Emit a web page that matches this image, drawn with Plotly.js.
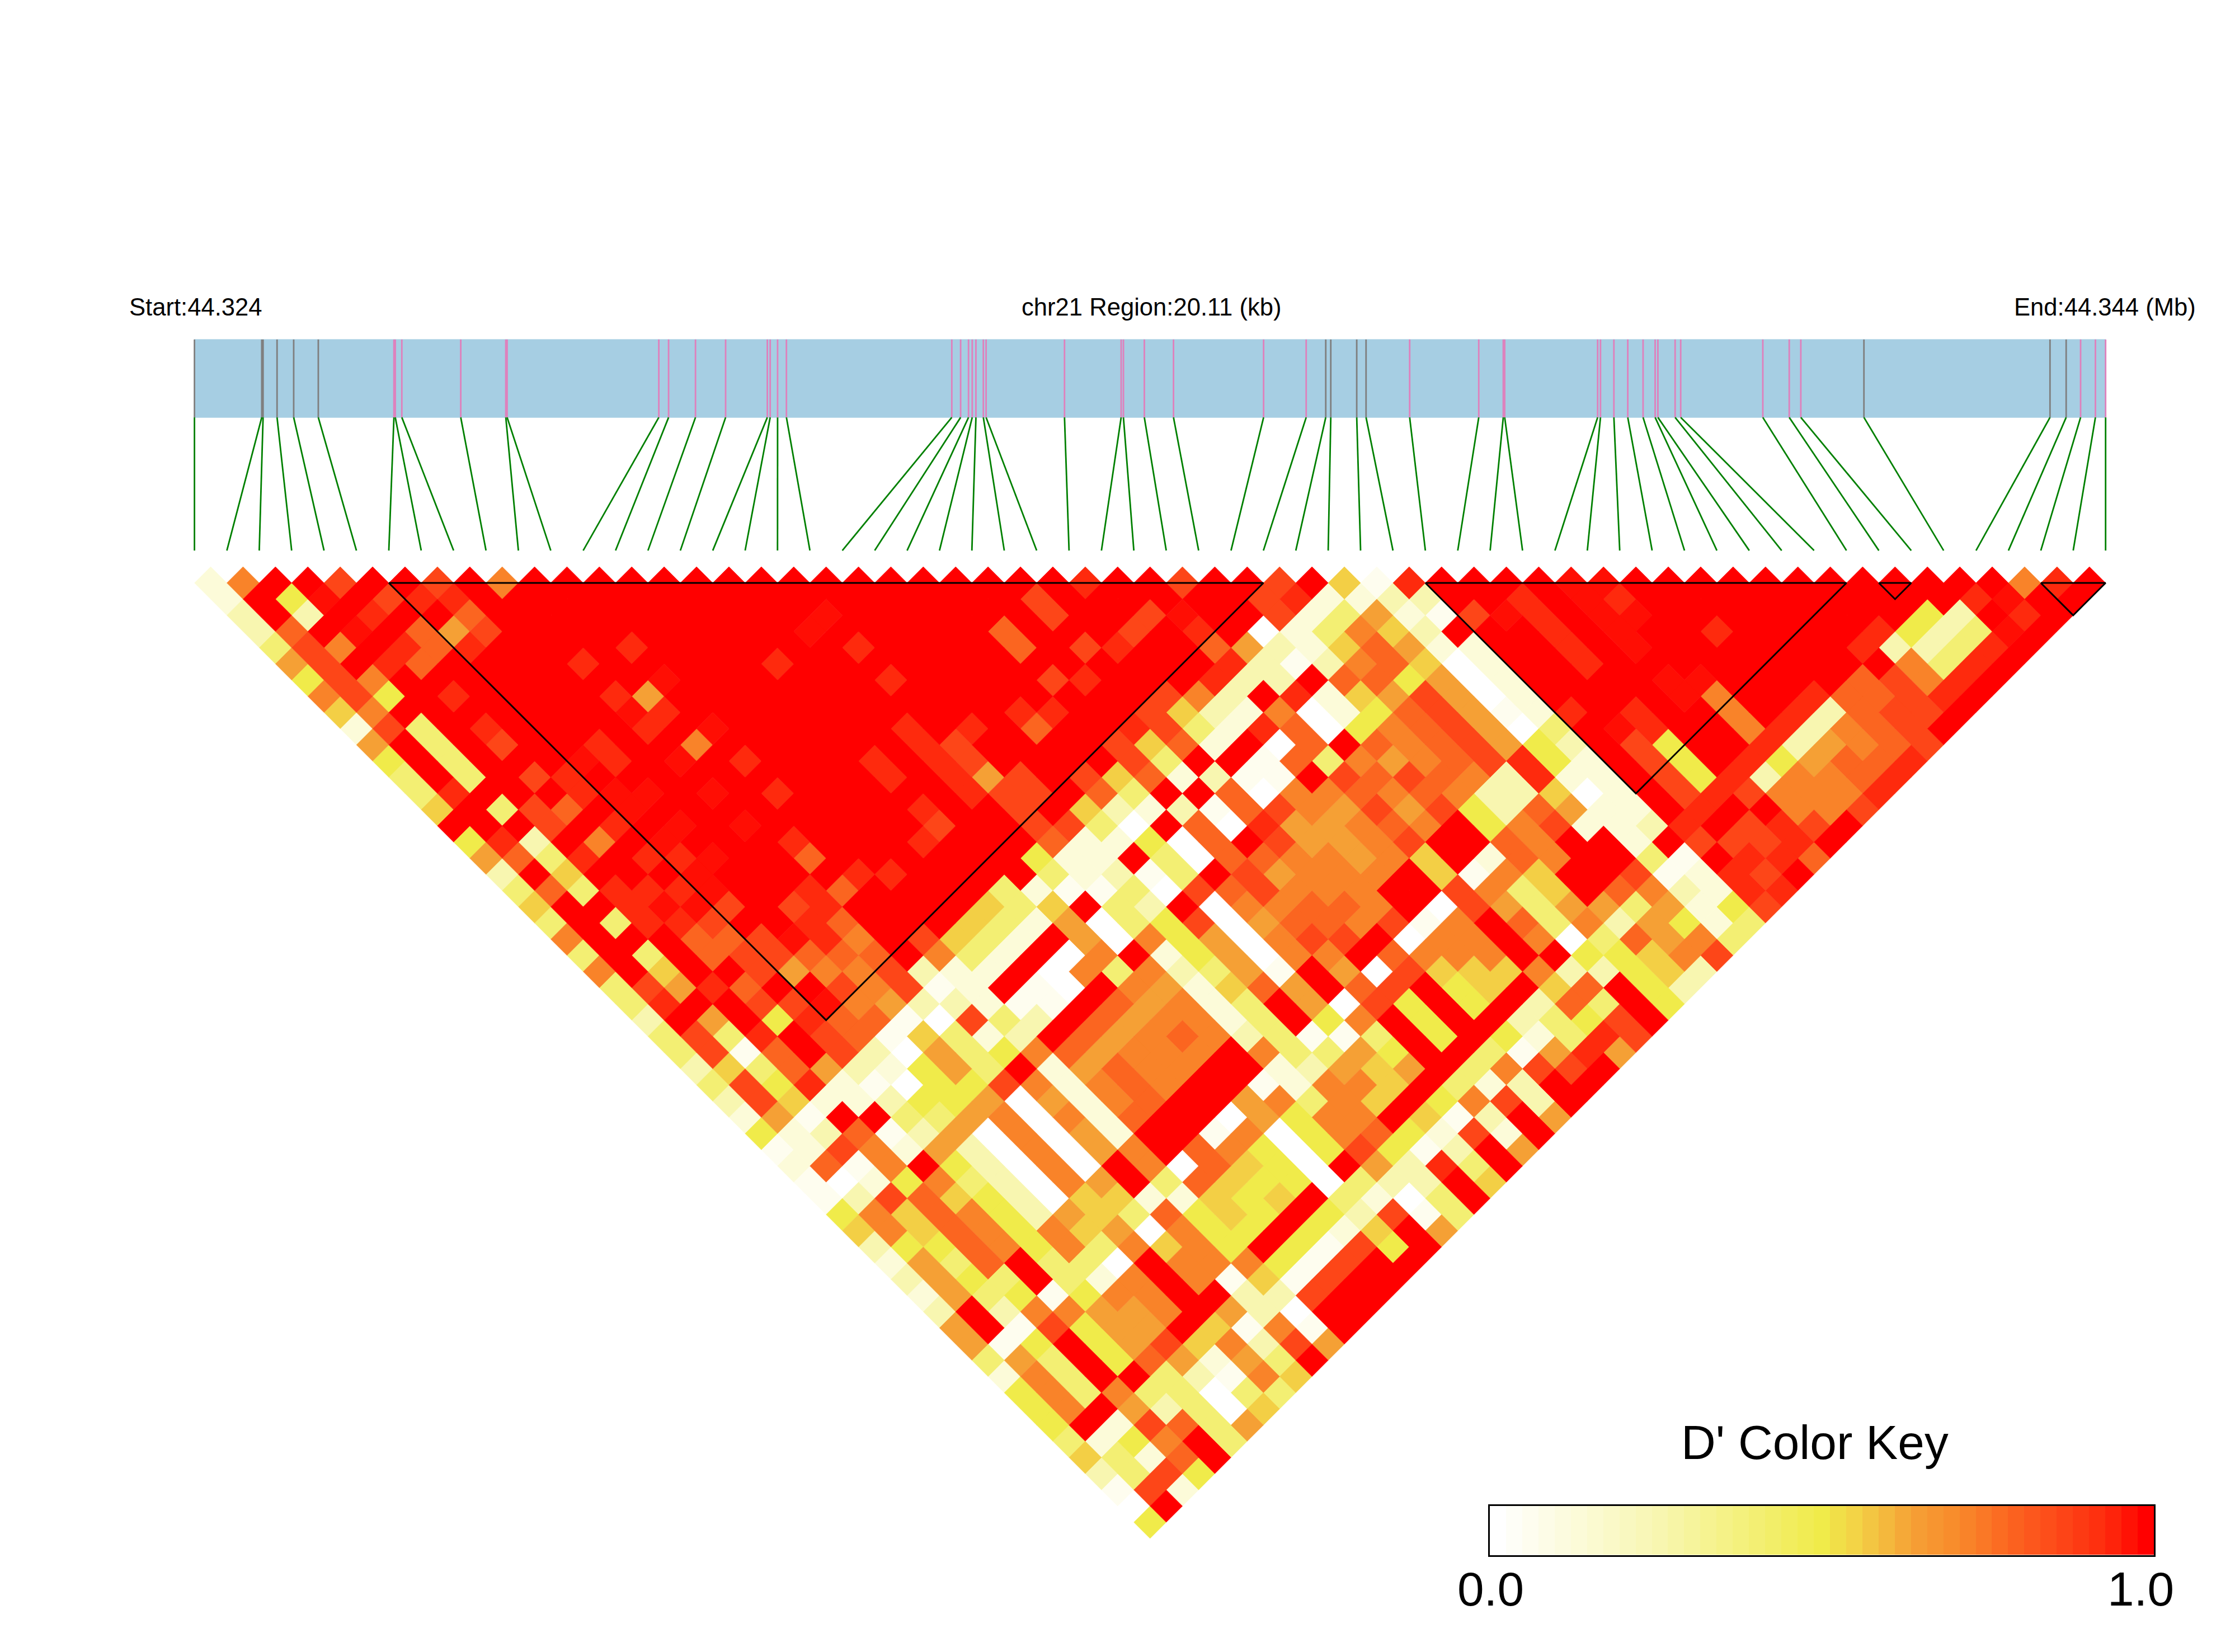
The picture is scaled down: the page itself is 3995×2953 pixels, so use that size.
<!DOCTYPE html>
<html><head><meta charset="utf-8">
<script src="https://cdn.plot.ly/plotly-3.0.1.min.js"></script>
<style>html,body{margin:0;padding:0;background:#fff}</style></head>
<body><div id="g" style="width:3995px;height:2953px"></div>
<script>
// SNP physical positions along the region (kb from start)
const snpKb = [0,0.708,0.722,0.869,1.044,1.303,2.099,2.113,2.182,2.802,3.276,3.290,4.886,4.989,5.272,5.589,6.028,6.058,6.136,6.229,
7.969,8.062,8.145,8.184,8.223,8.301,8.330,9.155,9.751,9.775,9.995,10.302,11.250,11.698,11.904,11.957,12.230,12.328,12.787,13.514,
13.772,13.787,14.765,14.795,14.936,15.082,15.243,15.370,15.399,15.580,15.639,16.503,16.781,16.903,17.567,19.525,19.695,19.847,20.003,20.11];
const graySnps = [0,1,2,3,4,5,34,35,36,37,54,55,56];
const regionKb = 20.11;
// LD blocks (first SNP, last SNP)
const blocks = [[6,33],[38,51],[52,53],[57,59]];
// D' level of each letter
const levels = {A:0,B:0.05,C:0.12,D:0.25,E:0.40,F:0.50,G:0.56,H:0.64,I:0.725,J:0.79,K:0.87,L:0.94,M:0.98,R:1};
// One string per distance d = j-i. Token "53K" : the pair with i+j = 53 has level K. Pairs not listed have D' = 1 (R).
const depthRows = [
"1C 3I 9K 15K 19I 55L 61K 67K 71G 73B 75L 85M 87M 113I 115L",
"2C 6F 8M 12K 14L 16L 52K 66K 68L 70C 72C 74D 76D 82L 86M 88L 110L 112M",
"3D 7D 11L 17J 39M 53K 59K 61M 67K 69C 71E 73H 75C 77B 79K 81M 83L 87M 89M 107F 109D 113L",
"4D 6J 10M 14J 16H 18K 38M 50J 58K 62L 66A 68C 70E 72I 74G 76D 84L 88M 94L 104L 106F 108D 110E 112M",
"5E 7K 9I 13L 15J 17L 27L 41L 51J 55K 57L 63J 65H 67D 69C 71G 73J 75H 77C 79C 85L 89M 103L 105D 107D 109E 111L",
"6H 8K 12L 14J 24L 36L 64L 66D 68B 70D 72I 74J 76G 78A 80C 86L 106I 108E 110L",
"7F 9K 11I 29M 43L 53K 55L 63L 65D 67D 71J 73J 75F 77H 79A 81C 91M 93M 103J 105K 107I 109L",
"8I 10K 12F 16L 26L 28H 60K 62I 64D 68L 70C 72G 74H 76K 78H 80A 82C 92M 94I 100L 102J 104J 106K 108L",
"9G 11I 27M 29L 51L 53L 59K 61G 63D 65C 67I 69A 71C 73F 75J 77K 79H 81B 83C 85L 89L 95I 99L 101D 103J 105K 107K",
"10C 12K 14E 18L 28L 32M 44L 48L 52J 58L 60K 62E 64C 66L 68J 70A 72F 74I 76J 78K 80H 82A 84E 88M 90L 96I 98L 100D 102I 104J 106K",
"11H 15E 19K 25L 31I 45L 47K 57K 59G 61J 63C 67A 69J 73J 75I 77J 79K 81H 83F 85D 89K 91F 97L 99D 101H 103I 105J 107K",
"12F 16E 24M 26L 30M 34L 42L 46L 48K 58K 60E 66B 68J 70E 72I 74H 76I 78J 80K 82L 84F 86C 90K 92F 96L 98F 100H 102J 104J 106L",
"13E 17E 21K 23L 43L 47L 49H 51K 55K 57G 59J 61C 63D 65B 67B 71K 73J 75K 77J 79I 81D 83L 85C 87C 91K 93F 95L 97D 99I 101I 103J 105L",
"14E 16L 24L 26M 28M 32M 36L 48L 50K 52K 56J 58E 64J 66A 68I 70I 72J 74I 76J 78I 80D 82D 84G 86A 88C 92K 94L 96K 98I 100I 102I 104L",
"15G 19E 21K 23J 27M 45L 51K 55G 57D 59C 61D 63B 65J 67K 69I 71H 73K 75H 77K 79F 81D 83J 85H 87C 89C 93L 99I 101I 103K",
"22K 26L 30M 34M 46K 52K 54K 56E 58A 62J 64A 66L 68H 70H 72I 74J 76I 80F 82I 84K 86C 88C 90D 92L 96K 98L 100K",
"17F 19L 21D 25I 29M 37L 45L 53J 55C 57C 59F 61A 63J 67K 69H 71H 73I 75K 81J 83I 89C 93K 95K 97K 99L",
"18H 20J 22E 24L 28L 30L 32M 38J 52F 54C 56C 60E 62A 64J 66J 68I 70I 72H 74I 76G 80C 82J 84I 90E 92B 96L 98L 100J",
"19D 23G 31M 41L 43L 53E 55C 57D 59B 61E 65K 67H 69I 71I 73I 77G 79B 81I 83G 89K 91B 93C 95L 97K",
"20E 22J 24E 26L 28L 30L 32M 38L 40J 50E 52C 54B 56B 58E 60A 62K 64J 66K 68I 70I 72I 78K 80I 82E 84G 88J 90I 92D 94C 96L 98L",
"21G 27L 29M 31M 33K 37K 39L 49G 51E 53G 57E 59D 63A 65I 67I 69J 71J 73I 77A 79K 81H 83E 85H 87H 89E 91H 93C 95F 97K",
"22E 26E 28L 30L 32K 38L 40J 48G 50E 52C 54H 56A 58E 60F 62K 64A 66H 68J 70J 72I 74K 76B 78I 82J 84E 86I 88D 90H 92F 94C 96E",
"23I 31J 33J 35K 37M 39L 41I 45K 47G 49E 51C 55H 57A 59I 61F 63H 65A 67I 69K 71K 75A 77I 79I 83I 85A 87E 89J 91H 93I 95E",
"24E 28E 32J 34K 36K 38J 40J 42J 46I 48E 50C 54A 56I 60C 62F 64H 66A 68I 70I 74J 76I 78I 80I 86F 88F 90G 92I 94K",
"25I 29G 35K 37H 39I 41I 43K 45D 47C 49C 53A 55I 57E 59I 61D 63E 65H 67B 71H 73A 75K 77G 79G 81G 83I 85D 87D 89F 91G 93D",
"26E 28K 30H 32L 34J 40K 42I 44K 46B 48C 52B 54A 58I 60H 62C 64G 66J 68H 72J 74K 78F 80G 84G 86J 90F 92D",
"27E 29L 35K 37K 39M 41I 43H 45D 47D 49C 51B 53B 57J 59H 61I 63C 65E 69H 71A 73K 75F 79F 83D 85J 87E 91F",
"28D 32H 36F 38L 40J 42J 44B 46A 48K 50E 52D 56J 58H 60I 62I 64C 66E 70F 72I 76F 82D 84E 86F 88K",
"29E 31K 33E 35L 39K 41J 43B 45G 47E 49C 51D 55J 57H 59I 61J 63I 65D 67E 69B 71B 73E 77F 81F 83C 85E 87L 89K",
"30E 32K 34B 36J 40K 42D 44A 46H 48E 50F 52I 54J 56H 58I 60I 62I 66I 68E 70E 72H 74F 80E 82B 84H 86L 88H",
"31D 33G 35E 37J 39H 41D 43C 45F 47H 49E 53C 55H 57J 59I 61I 67C 69D 71H 73G 75H 79E 81I 83K 85K",
"32E 34K 36F 38L 40C 42B 44A 46F 48F 50K 52I 54C 56I 58J 60I 66B 68C 70I 72I 74G 78E 80C 82D",
"33D 35K 37G 39C 41C 43D 45F 47F 49H 51A 53H 55C 57I 59J 65H 67I 69E 71I 73G 77F 79I 81K 83D",
"34C 36H 38B 44E 46E 48H 50I 52A 54I 56C 58J 64A 66H 68F 70I 72I 76G 78B 80D 84H",
"35F 37C 39D 41J 43B 45D 47H 49A 51I 53A 55H 57C 63B 65I 67A 69F 71I 73J 75F 77C 79K 81C",
"36B 38C 40K 42I 44C 46H 48D 50A 52I 54A 56H 58I 62J 64I 66F 68A 70F 72K 74F 76B 78D 82H",
"37C 39J 41B 43I 47F 49D 51A 53I 55A 59I 61A 63J 65G 67F 69A 73H 75D 77L 79E",
"38B 40A 42C 44F 46I 48E 50D 52A 54I 56H 60E 62J 64G 66F 68F 70A 72E 74D 76D 80G",
"39B 41D 43K 45J 47G 49F 51D 53A 55G 57G 59C 61C 63G 65F 67G 71E 73C 75A 77E",
"40F 42I 44G 46J 48I 50F 52D 54H 56G 58E 60J 62F 64G 66F 70F 72D 74K 76B 78E",
"41G 43I 45G 47J 49I 51F 53I 55G 57H 59A 61I 63F 65F 69F 71C 73G 77H",
"42D 44F 46F 48J 50I 52F 54I 56E 58I 60G 62I 64F 68F 70B 72K 74F",
"43C 45H 47E 49J 53E 55E 57A 61I 63I 65I 67F 69B 71K",
"44D 46H 48F 50E 54E 56C 58I 62I 64B 66G 68B 70K",
"45C 47H 49E 51F 53B 55F 57I 59I 65D 67D 69K",
"46D 50D 52I 54I 56H 58H 60I 64H 66D 68A",
"47H 51B 53K 55F 57H 59H 63G 65B 67I 69B",
"48H 50B 52F 56F 58H 60K 62G 64I 66D 68K 70H",
"49E 51H 53E 57F 59J 61H 63C 65H 67E",
"50C 52I 54E 60E 62D 64B 66I 68G",
"51F 53I 55E 57I 59E 61E 63A 65E 67E",
"52F 54I 58H 60D 62E 64A 66G",
"53F 57C 59K 61J 63E 65H",
"54E 56C 58F 60I 64E",
"55G 57E 59C 61J",
"56D 58E 60K 62F",
"57B 59K 61C",
"58A",
"59F"];
const keyBins = 41;
const colorStops = [[0,'#FFFFFF'],[0.25,'#F8F6B0'],[0.5,'#F0EB4A'],[0.56,'#F3CF45'],[0.64,'#F5A035'],[0.71,'#F98A2B'],[0.79,'#FB6520'],[0.87,'#FD4618'],[0.94,'#FE2A0D'],[1,'#FF0000']];

function hex(c){return [1,3,5].map(k=>parseInt(c.substr(k,2),16));}
function colorOf(v){
  for(let k=1;k<colorStops.length;k++){
    if(v<=colorStops[k][0]){
      const a=colorStops[k-1],b=colorStops[k],t=(v-a[0])/(b[0]-a[0]);
      const A=hex(a[1]),B=hex(b[1]);
      return 'rgb('+A.map((x,n)=>Math.round(x+(B[n]-x)*t)).join(',')+')';
    }
  }
  return colorStops[colorStops.length-1][1];
}
const W=3995,H=2953,N=snpKb.length;
const traces=[];
// LD cells grouped per level; x = (i+j)/2 in SNP index units, y = j-i
const polys={};Object.keys(levels).forEach(k=>polys[k]={x:[],y:[]});
depthRows.forEach((row,idx)=>{
  const d=idx+1,map={};
  row.split(/\s+/).filter(Boolean).forEach(t=>{map[parseInt(t)]=t.slice(-1);});
  for(let s=d;s<=2*(N-1)-d;s+=2){
    const c=map[s]||'R',u=s/2,p=polys[c];
    p.x.push(u-0.5,u,u+0.5,u,u-0.5,null);
    p.y.push(d,d-1,d,d+1,d,null);
  }
});
Object.keys(levels).forEach(k=>{
  if(k==='A')return;
  const col=colorOf(levels[k]);
  traces.push({type:'scatter',mode:'lines',x:polys[k].x,y:polys[k].y,fill:'toself',fillcolor:col,
    line:{color:col,width:0.6},hoverinfo:'skip',showlegend:false,xaxis:'x',yaxis:'y'});
});
const u=kb=>kb/regionKb*(N-1);
const bandTop=-14.03,bandBot=-9.22,connEnd=-1.0;
const band={type:'scatter',mode:'lines',x:[0,N-1,N-1,0,0],y:[bandTop,bandTop,bandBot,bandBot,bandTop],fill:'toself',fillcolor:'#A6CEE3',line:{color:'#A6CEE3',width:1},hoverinfo:'skip',showlegend:false};
traces.push(band);
function tick(list,col){
  const x=[],y=[];
  list.forEach(i=>{x.push(u(snpKb[i]),u(snpKb[i]),null);y.push(bandTop,bandBot,null);});
  traces.push({type:'scatter',mode:'lines',x,y,line:{color:col,width:2.8},hoverinfo:'skip',showlegend:false});
}
const all=snpKb.map((_,i)=>i);
tick(all.filter(i=>!graySnps.includes(i)),'#DF80BC');
tick(graySnps,'#7F7F7F');
const gx=[],gy=[];
snpKb.forEach((kb,i)=>{gx.push(u(kb),i,null);gy.push(bandBot,connEnd,null);});
traces.push({type:'scatter',mode:'lines',x:gx,y:gy,line:{color:'#008000',width:2.8},hoverinfo:'skip',showlegend:false});
// LD block outlines
const bx=[],by=[];
blocks.forEach(b=>{bx.push(b[0],b[1],(b[0]+b[1])/2,b[0],null);by.push(1,1,1+b[1]-b[0],1,null);});
traces.push({type:'scatter',mode:'lines',x:bx,y:by,line:{color:'#000',width:3},hoverinfo:'skip',showlegend:false});
// colour key
const keyZ=[];for(let b=0;b<keyBins;b++)keyZ.push(b/(keyBins-1));
traces.push({type:'heatmap',z:[keyZ],x:keyZ.map((_,b)=>b),y:[0],zmin:0,zmax:1,colorscale:colorStops,showscale:false,hoverinfo:'skip',xaxis:'x2',yaxis:'y2'});

const dx=57.9,x0=347.6,dy=28.95,y0=1042;
const ann=(t,x,y,size,anchor)=>({text:t,x:x/W,y:1-y/H,xref:'paper',yref:'paper',showarrow:false,xanchor:anchor,yanchor:'middle',font:{family:'Liberation Sans, Arial, sans-serif',size:size,color:'#000'}});
const layout={width:W,height:H,margin:{l:0,r:0,t:0,b:0},paper_bgcolor:'#fff',plot_bgcolor:'#fff',showlegend:false,
  xaxis:{domain:[0,1],range:[-x0/dx,(W-x0)/dx],visible:false,fixedrange:true},
  yaxis:{domain:[0,1],range:[1+(H-y0)/dy,1-y0/dy],visible:false,fixedrange:true},
  xaxis2:{domain:[2663/W,3850/W],range:[-0.5,keyBins-0.5],anchor:'y2',showticklabels:false,ticks:'',showgrid:false,zeroline:false,showline:true,mirror:true,linecolor:'#000',linewidth:3},
  yaxis2:{domain:[1-2779.5/H,1-2691.5/H],range:[-0.5,0.5],anchor:'x2',showticklabels:false,ticks:'',showgrid:false,zeroline:false,showline:true,mirror:true,linecolor:'#000',linewidth:3},
  annotations:[
    ann('Start:44.324',229,549,43.6,'left'),
    ann('chr21 Region:20.11 (kb)',2058,549,43.6,'center'),
    ann('End:44.344 (Mb)',3927,549,43.6,'right'),
    ann("D' Color Key",3244,2578,85.6,'center'),
    ann('0.0',2664,2840,85.6,'center'),
    ann('1.0',3826,2840,85.6,'center')
  ]};
Plotly.newPlot('g',traces,layout,{displayModeBar:false,staticPlot:true});
</script></body></html>
